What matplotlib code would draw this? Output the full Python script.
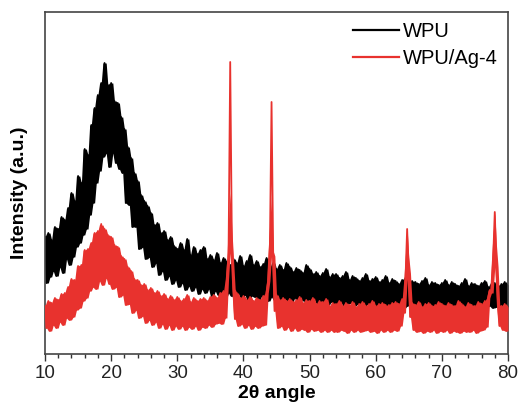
import numpy as np
import pandas as pd
import matplotlib
matplotlib.use("Agg")
import matplotlib.pyplot as plt
from matplotlib.ticker import MultipleLocator

# 2-theta grid (degrees), 0.25 deg step
two_theta = np.arange(10.0, 80.001, 0.25)

# WPU intensity (a.u.), 4 values per degree
wpu = [
    116, 70, 120, 76,   113, 82, 126, 77,   124, 86, 136, 80,   133, 94, 145, 88,
    160, 96, 152, 106,  177, 110, 170, 118, 204, 124, 198, 138, 228, 150, 245, 170,
    258, 182, 270, 196, 290, 200, 268, 186, 270, 200, 252, 190, 250, 184, 236, 180,
    224, 150, 206, 148, 195, 126, 180, 126, 172, 104, 158, 106, 152, 94, 147, 96,
    140, 86, 128, 90,   130, 78, 120, 82,   122, 73, 113, 77,   116, 69, 107, 73,
    104, 66, 110, 70,   103, 63, 114, 67,   98, 62, 106, 66,    99, 59, 103, 64,
    106, 60, 94, 64,    98, 57, 93, 62,    100, 58, 90, 61,    95, 55, 91, 60,
    88, 57, 94, 54,     90, 59, 97, 55,    87, 58, 92, 53,     98, 57, 88, 56,
    92, 53, 86, 57,     89, 54, 95, 52,    85, 56, 90, 53,     84, 55, 88, 51,
    83, 54, 90, 52,     86, 51, 81, 55,    85, 50, 83, 53,     80, 52, 88, 50,
    84, 51, 79, 53,     81, 49, 77, 52,    80, 50, 84, 48,     76, 51, 79, 49,
    79, 48, 75, 51,     77, 47, 81, 49,    73, 50, 77, 47,     75, 49, 72, 47,
    75, 46, 79, 49,     72, 47, 74, 48,    76, 46, 71, 49,     73, 47, 77, 46,
    70, 48, 74, 46,     72, 47, 69, 48,    73, 45, 75, 47,     69, 48, 72, 46,
    71, 45, 69, 48,     72, 46, 75, 45,    68, 47, 71, 45,     70, 47, 68, 45,
    70, 46, 73, 44,     68, 47, 71, 46,    69, 45, 67, 47,     70, 45, 74, 46,
    67, 47, 70, 45,     69, 46, 67, 47,    70, 45, 72, 46,     66, 47, 69, 45,
    70, 46, 67, 47,     69, 45, 71, 46,    68,
]

# WPU/Ag-4 intensity (a.u.), 4 values per degree
wpu_ag4 = [
    47, 25, 52, 22,     50, 28, 55, 25,    53, 31, 59, 28,     60, 35, 66, 33,
    74, 36, 73, 43,     87, 45, 88, 52,    103, 55, 104, 62,   110, 66, 120, 64,
    122, 72, 129, 68,   124, 75, 118, 69,  116, 64, 108, 66,   106, 56, 97, 58,
    94, 48, 86, 49,     82, 40, 74, 43,    73, 35, 68, 37,     69, 30, 63, 33,
    65, 28, 60, 31,     62, 25, 57, 29,    59, 24, 54, 28,     57, 23, 53, 27,
    56, 24, 52, 27,     54, 23, 58, 26,    51, 24, 55, 27,     52, 23, 54, 26,
    55, 25, 52, 28,     56, 26, 58, 29,    55, 30, 60, 29,     62, 35, 74, 100,
    291, 112, 64, 34,   60, 27, 55, 29,    57, 25, 53, 28,     56, 24, 52, 27,
    55, 25, 53, 27,     57, 28, 60, 72,    105, 251, 97, 42,   58, 25, 53, 27,
    55, 23, 52, 26,     54, 22, 51, 25,    53, 22, 56, 24,     50, 23, 53, 21,
    52, 24, 55, 22,     49, 23, 52, 21,    51, 23, 54, 21,     47, 23, 50, 21,
    49, 21, 52, 23,     47, 22, 50, 20,    48, 23, 51, 21,     46, 23, 49, 21,
    51, 22, 47, 23,     49, 21, 52, 22,    47, 20, 49, 23,     50, 21, 48, 23,
    48, 21, 50, 23,     51, 22, 49, 27,    54, 40, 74, 124,    80, 36, 50, 23,
    48, 21, 51, 22,     46, 20, 49, 22,    50, 21, 47, 23,     48, 20, 51, 22,
    49, 21, 47, 23,     50, 20, 48, 22,    47, 21, 52, 20,     49, 22, 46, 21,
    50, 21, 48, 23,     47, 20, 51, 22,    49, 23, 52, 26,     55, 63, 60, 93,
    141, 86, 48, 27,    47, 23, 49, 22,    46,
]

labels = ["WPU", "WPU/Ag-4"]
colors = ["#000000", "#e8322e"]

plt.rcParams["font.family"] = ["Liberation Sans", "DejaVu Sans"]

fig = plt.figure(figsize=(5.18, 4.08), dpi=100)
ax = fig.add_axes([0.0869, 0.1324, 0.8938, 0.8382])


def draw(y, color, label, cap, z):
    s = pd.Series(y, dtype=float)
    lo = s.rolling(3, center=True, min_periods=1).min().to_numpy()
    hi = s.rolling(3, center=True, min_periods=1).max().to_numpy()
    hi = np.minimum(hi, lo + cap)
    ax.fill_between(two_theta, lo, hi, color=color, lw=0, zorder=z)
    ax.plot(two_theta, y, color=color, lw=1.3, label=label, zorder=z + 0.5)


draw(wpu, colors[0], labels[0], 110, 2)
draw(wpu_ag4, colors[1], labels[1], 60, 3)

ax.set_xlim(10, 80)
ax.set_ylim(-1, 341)
ax.xaxis.set_major_locator(MultipleLocator(10))
ax.xaxis.set_minor_locator(MultipleLocator(2))
ax.set_yticks([])
ax.tick_params(axis="x", which="major", direction="out", length=5, width=1,
               labelsize=13.5, pad=3, colors="#333333", labelcolor="#222222")
ax.tick_params(axis="x", which="minor", direction="out", length=3, width=1,
               colors="#333333")
ax.tick_params(top=False, right=False)
for s in ax.spines.values():
    s.set_color("#444444")
    s.set_linewidth(1.2)

ax.set_xlabel("2θ angle", fontsize=14, fontweight="bold", labelpad=2)
ax.set_ylabel("Intensity (a.u.)", fontsize=14, fontweight="bold")
ax.yaxis.set_label_coords(-0.037, 0.47)

leg = ax.legend(loc="upper right", bbox_to_anchor=(1.0, 1.0), frameon=False,
                fontsize=14.5, handlelength=2.3, handletextpad=0.2,
                labelspacing=0.4, borderaxespad=0.3, borderpad=0.2)
for line in leg.get_lines():
    line.set_linewidth(1.6)

fig.savefig("out.png", dpi=100)
